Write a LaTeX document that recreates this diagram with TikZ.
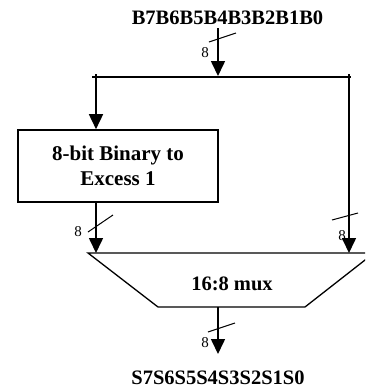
\documentclass[tikz,border=0pt]{standalone}
\usepackage{fontspec}
\setmainfont{Liberation Serif}
\usetikzlibrary{arrows.meta}
\begin{document}
\begin{tikzpicture}[x=1pt,y=-1pt,
  wire/.style={line width=1.6pt},
  arr/.style={wire,-{Triangle[length=15pt,width=14pt]}},
  slash/.style={line width=1pt},
  lbl/.style={font=\fontsize{20.5}{24}\selectfont\bfseries,inner sep=0pt},
  wlbl/.style={font=\fontsize{15}{18}\selectfont,inner sep=0pt},
  blk/.style={draw,line width=1.6pt,minimum width=200pt,minimum height=72pt,align=center,
    font=\fontsize{21}{25}\selectfont\bfseries,inner sep=0pt}]
\useasboundingbox (0,0) rectangle (365,389);
\clip (0,0) rectangle (365,389);
% labels
\node[lbl] (btxt) at (227.5,18) {B7B6B5B4B3B2B1B0};
\node[lbl] (stxt) at (218,378) {S7S6S5S4S3S2S1S0};
% coordinates
\coordinate (tin) at (218,28);
\coordinate (tend) at (218,76);
\coordinate (busL) at (96,77);
\coordinate (busR) at (349,77);
\coordinate (busLt) at (96,74);
\coordinate (busRt) at (349,74);
% box
\node[blk] (box) at (118,166) {8-bit Binary to\\Excess 1};
% mux
\coordinate (m1) at (88,253);
\coordinate (m2) at (374,253);
\coordinate (m3) at (305,307);
\coordinate (m4) at (158,307);
\draw[line width=1.3pt] (m1) -- (m2) -- (m3) -- (m4) -- cycle;
\node[lbl] (mux) at (232,284) {16:8 mux};
\coordinate (mL) at (96,253);
\coordinate (mR) at (349,253);
\coordinate (mout) at (218,307);
\coordinate (oend) at (218,354);
% wires
\draw[arr] (tin) -- (tend);
\draw[wire] (92,77) -- (351,77);
\draw[arr] (busLt) -- (busLt |- box.north);
\draw[wire] (busRt) -- (busR);
\draw[arr] (busR) -- (mR);
\draw[arr] (busL |- box.south) -- (mL);
\draw[arr] (mout) -- (oend);
% bus slashes
\draw[slash] (209,42) -- (236,33);
\draw[slash] (88,232) -- (113,215);
\draw[slash] (332,220) -- (358,213);
\draw[slash] (208,332) -- (235,323);
\node[wlbl] (w1) at (205,53) {8};
\node[wlbl] (w2) at (78,232) {8};
\node[wlbl] (w3) at (342,236) {8};
\node[wlbl] (w4) at (205,343) {8};
\end{tikzpicture}
\end{document}
